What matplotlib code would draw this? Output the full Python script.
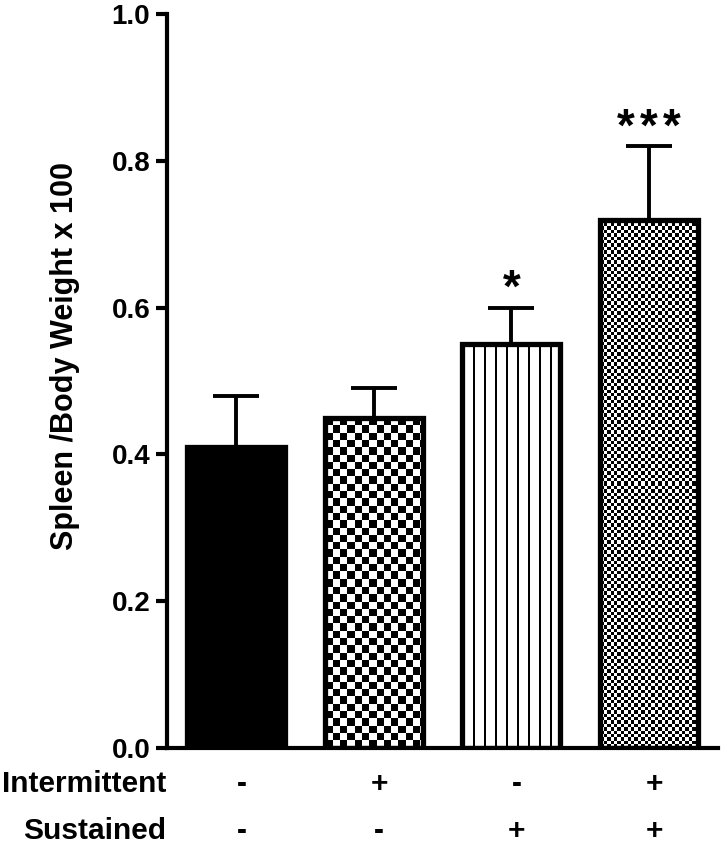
import numpy as np
import matplotlib
matplotlib.use('Agg')
import matplotlib.pyplot as plt
from matplotlib.transforms import blended_transform_factory

plt.rcParams['font.family'] = ['Liberation Sans', 'DejaVu Sans']
plt.rcParams['font.weight'] = 'bold'

# data
means = [0.41, 0.45, 0.55, 0.72]
sems = [0.07, 0.04, 0.05, 0.10]
stars = ['', '', '*', '***']
intermittent = ['-', '+', '-', '+']
sustained = ['-', '-', '+', '+']
row_names = ['Intermittent', 'Sustained']
textures = ['solid', 'checker', 'stripes', 'finechecker']


def texture(kind, nx, ny):
    # build a black/white pixel array for the bar fill
    xx, yy = np.meshgrid(np.arange(nx), np.arange(ny))
    if kind == 'checker':
        c = 7.3
        return ((np.floor(xx / c) + np.floor(yy / c)) % 2).astype(float)
    if kind == 'finechecker':
        c = 3.4
        return ((np.floor(xx / c) + np.floor(yy / c)) % 2).astype(float)
    if kind == 'stripes':
        return np.where((xx % 11) < 2, 0.0, 1.0)
    return np.zeros((ny, nx))


fig = plt.figure(figsize=(7.24, 8.44), dpi=100)
ax = fig.add_axes([0.2307, 0.1137, 0.761, 0.8697])

x = np.arange(len(means))
width = 0.71
ax.set_xlim(-0.5, 3.5)
ax.set_ylim(0, 1.0)

bars = ax.bar(x, means, width, color='white', edgecolor='none', zorder=1)

for rect, kind in zip(bars, textures):
    x0, y0 = rect.get_x(), rect.get_y()
    w, h = rect.get_width(), rect.get_height()
    p0 = ax.transData.transform((x0, y0))
    p1 = ax.transData.transform((x0 + w, y0 + h))
    nx = int(round(p1[0] - p0[0]))
    ny = int(round(p1[1] - p0[1]))
    img = texture(kind, nx, ny)
    im = ax.imshow(img, cmap='gray', vmin=0, vmax=1, interpolation='nearest',
                   extent=(x0, x0 + w, y0, y0 + h), origin='lower',
                   aspect='auto', zorder=1.5)
    im.set_clip_path(rect)

ax.bar(x, means, width, fill=False, edgecolor='black', linewidth=3.8, zorder=2)

ax.errorbar(x, means, yerr=[np.zeros(len(sems)), sems], fmt='none',
            ecolor='black', elinewidth=2.8, capsize=16.5, capthick=2.8, zorder=3)

# significance stars, one glyph per annotation so they spread like the original
for xi, m, s, st in zip(x, means, sems, stars):
    n = len(st)
    for k, ch in enumerate(st):
        ax.annotate(ch, (xi, m + s), xytext=((k - (n - 1) / 2.0) * 16.5, -3),
                    textcoords='offset points', ha='center', va='bottom',
                    fontsize=33, fontweight='bold')

ax.set_aspect('auto')
ax.set_ylabel('Spleen /Body Weight x 100', fontsize=22, fontweight='bold')
ax.yaxis.set_label_coords(-0.158, 0.534)
ax.set_yticks(np.arange(0, 1.01, 0.2))
ax.set_yticklabels(['%.1f' % v for v in np.arange(0, 1.01, 0.2)])
ax.tick_params(axis='y', labelsize=20, width=3, length=8, pad=4)
ax.set_xticks([])

for s in ['top', 'right']:
    ax.spines[s].set_visible(False)
for s in ['left', 'bottom']:
    ax.spines[s].set_linewidth(3)

trans = blended_transform_factory(ax.transData, ax.transAxes)
trans_ax = ax.transAxes
row_y = [-0.060, -0.1233]
for ry, name, signs in zip(row_y, row_names, [intermittent, sustained]):
    ax.text(-0.002, ry, name, transform=trans_ax, ha='right', va='baseline',
            fontsize=21.5, fontweight='bold')
    for xi, sg in zip(x, signs):
        ax.text(xi + 0.04, ry, sg, transform=trans, ha='center', va='baseline',
                fontsize=21.5, fontweight='bold')

plt.savefig('out.png', dpi=100)
